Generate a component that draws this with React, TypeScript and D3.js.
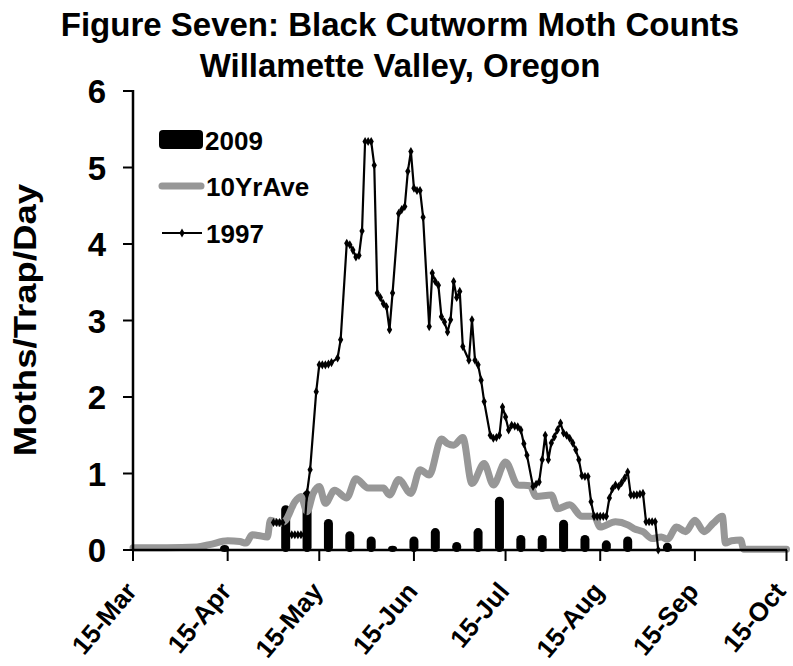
import React from "react";
import * as d3 from "d3";

const W = 793;
const H = 666;

// x tick labels (dates, 2009 axis year for a non-leap calendar)
const tickLabels = ["15-Mar", "15-Apr", "15-May", "15-Jun", "15-Jul", "15-Aug", "15-Sep", "15-Oct"];
const yTicks = [0, 1, 2, 3, 4, 5, 6];

// days since 15-Mar
const days2009 = [30, 50, 57, 64, 71, 78, 85, 92, 99, 106, 113, 120, 127, 134, 141, 148, 155, 162, 175];
const values2009 = [0.04, 0.56, 0.75, 0.38, 0.22, 0.15, 0.03, 0.15, 0.26, 0.08, 0.26, 0.67, 0.17, 0.17, 0.37, 0.17, 0.1, 0.15, 0.07];

const daysAvg = [0, 11, 21, 25, 31, 35, 37, 39, 41, 44, 45, 48, 50, 53, 55, 57, 59, 61, 63, 66, 70, 73, 77, 82, 84, 87, 91, 94, 97, 101, 103, 105, 108, 111, 115, 118, 122, 126, 130, 132, 137, 139, 143, 147, 151, 153, 158, 162, 164, 167, 170, 173, 175, 178, 181, 184, 187, 190, 193, 194, 196, 199, 200, 214];
const valuesAvg = [0.03, 0.03, 0.04, 0.07, 0.12, 0.11, 0.09, 0.2, 0.19, 0.17, 0.39, 0.35, 0.39, 0.63, 0.7, 0.5, 0.74, 0.83, 0.61, 0.78, 0.68, 0.93, 0.81, 0.81, 0.72, 0.92, 0.74, 1.05, 0.98, 1.45, 1.39, 1.37, 1.47, 0.87, 1.13, 0.85, 1.15, 0.85, 0.84, 0.7, 0.72, 0.54, 0.59, 0.44, 0.44, 0.3, 0.37, 0.33, 0.28, 0.24, 0.15, 0.17, 0.14, 0.3, 0.24, 0.39, 0.24, 0.35, 0.44, 0.09, 0.12, 0.13, 0.01, 0.01];

const days1997 = [46, 47, 48, 49, 50, 51, 52, 53, 54, 55, 56, 57, 58, 60, 61, 62, 63, 64, 65, 67, 68, 70, 71, 72, 73, 74, 75, 76, 77, 78, 79, 80, 81, 82, 83, 84, 85, 87, 88, 89, 90, 91, 92, 93, 94, 95, 97, 98, 99, 100, 101, 102, 103, 104, 105, 106, 107, 108, 110, 111, 112, 113, 114, 115, 117, 118, 119, 120, 121, 122, 123, 124, 125, 126, 127, 128, 129, 131, 132, 133, 134, 135, 136, 137, 138, 139, 140, 141, 142, 143, 144, 145, 146, 147, 148, 149, 150, 151, 152, 153, 154, 155, 156, 157, 158, 159, 160, 161, 162, 163, 164, 165, 166, 167, 168, 169, 170, 171, 172];
const values1997 = [0.36, 0.36, 0.36, 0.36, 0.2, 0.2, 0.2, 0.2, 0.2, 0.2, 0.2, 0.75, 1.05, 2.07, 2.42, 2.42, 2.42, 2.43, 2.45, 2.51, 2.75, 4.01, 3.99, 3.92, 3.83, 3.85, 4.17, 5.34, 5.34, 5.34, 5.03, 3.36, 3.3, 3.22, 3.18, 2.88, 3.36, 4.4, 4.45, 4.49, 4.95, 5.21, 4.73, 4.7, 4.7, 4.35, 2.92, 3.62, 3.51, 3.46, 3.05, 2.98, 2.85, 3.01, 3.51, 3.3, 3.38, 2.66, 2.48, 3.01, 2.48, 2.42, 2.22, 1.94, 1.5, 1.46, 1.47, 1.5, 1.87, 1.74, 1.57, 1.63, 1.62, 1.61, 1.57, 1.39, 1.24, 0.83, 0.86, 0.89, 1.18, 1.5, 1.18, 1.4, 1.48, 1.57, 1.66, 1.53, 1.5, 1.46, 1.4, 1.31, 1.18, 0.97, 0.96, 0.96, 0.63, 0.44, 0.44, 0.44, 0.44, 0.44, 0.68, 0.8, 0.85, 0.83, 0.88, 0.94, 1.02, 0.72, 0.72, 0.72, 0.73, 0.74, 0.37, 0.37, 0.37, 0.37, 0];

const FONT = "'Liberation Sans', Arial, Helvetica, sans-serif";

export default function App() {
  const parse = d3.timeParse("%d-%b-%Y");
  const tickDates = tickLabels.map((t) => parse(t + "-2009") as Date);
  const base = tickDates[0];
  const toDate = (d: number) => d3.timeDay.offset(base, d);

  const x = d3.scaleTime().domain([tickDates[0], tickDates[tickDates.length - 1]]).range([133, 786.5]);
  const y = d3.scaleLinear().domain([0, 6]).range([550, 91]);

  const avgPts: [number, number][] = daysAvg.map((d, i) => [x(toDate(d)), y(valuesAvg[i])]);
  const pts1997: [number, number][] = days1997.map((d, i) => [x(toDate(d)), y(values1997[i])]);

  const avgLine = d3.line().curve(d3.curveMonotoneX)(avgPts) || "";
  const line1997 = d3.line()(pts1997) || "";
  const diamond = d3.symbol(d3.symbolDiamond, 24)() || "";

  const y0 = y(0);

  return (
    <svg width={W} height={H} style={{ position: "absolute", left: 0, top: 0, background: "#fff" }} fontFamily={FONT} fontWeight="bold">
      <rect x={0} y={0} width={W} height={H} fill="#fff" />
      {/* Title */}
      <text x={400} y={36} textAnchor="middle" fontSize={33}>Figure Seven: Black Cutworm Moth Counts</text>
      <text x={400} y={77} textAnchor="middle" fontSize={33}>Willamette Valley, Oregon</text>

      {/* Y axis title */}
      <text transform={`translate(36,320) rotate(-90) scale(1.18,1)`} textAnchor="middle" fontSize={31}>Moths/Trap/Day</text>

      {/* 2009 bars */}
      {days2009.map((d, i) => {
        const cx = x(toDate(d));
        const top = y(values2009[i]);
        return <rect key={"b" + i} x={cx - 4.5} y={top - 2} width={9} height={y0 - top + 4} rx={4.5} fill="#000" />;
      })}

      {/* 10 yr average */}
      <path d={avgLine} fill="none" stroke="#979797" strokeWidth={7} strokeLinejoin="round" strokeLinecap="round" />

      {/* 1997 */}
      <path d={line1997} fill="none" stroke="#000" strokeWidth={2.2} strokeLinejoin="round" />
      {pts1997.map((p, i) => (
        <path key={"m" + i} d={diamond} transform={`translate(${p[0]},${p[1]})`} fill="#000" />
      ))}

      {/* Axes */}
      <line x1={133} x2={133} y1={90} y2={551} stroke="#000" strokeWidth={2.5} />
      <line x1={132} x2={787} y1={550} y2={550} stroke="#000" strokeWidth={2.5} />
      {yTicks.map((t) => (
        <g key={"yt" + t}>
          <line x1={123} x2={133} y1={y(t)} y2={y(t)} stroke="#000" strokeWidth={2} />
          <text x={106} y={y(t) + 12} textAnchor="end" fontSize={33}>{t}</text>
        </g>
      ))}
      {tickDates.map((dt, i) => {
        const tx = x(dt);
        return (
          <g key={"xt" + i}>
            <line x1={tx} x2={tx} y1={550} y2={561} stroke="#000" strokeWidth={2} />
            <text transform={`translate(${Math.min(tx + 5, 787)},${592}) rotate(-50)`} textAnchor="end" fontSize={26}>{tickLabels[i]}</text>
          </g>
        );
      })}

      {/* Legend */}
      <rect x={159} y={130} width={44} height={19} rx={4} fill="#000" />
      <text x={205} y={150} fontSize={26}>2009</text>
      <line x1={162} x2={201} y1={186} y2={186} stroke="#979797" strokeWidth={7} strokeLinecap="round" />
      <text x={206} y={196} fontSize={26}>10YrAve</text>
      <line x1={162} x2={202} y1={233} y2={233} stroke="#000" strokeWidth={1.8} />
      <path d={diamond} transform="translate(182,233)" fill="#000" />
      <text x={206} y={243} fontSize={26}>1997</text>
    </svg>
  );
}
